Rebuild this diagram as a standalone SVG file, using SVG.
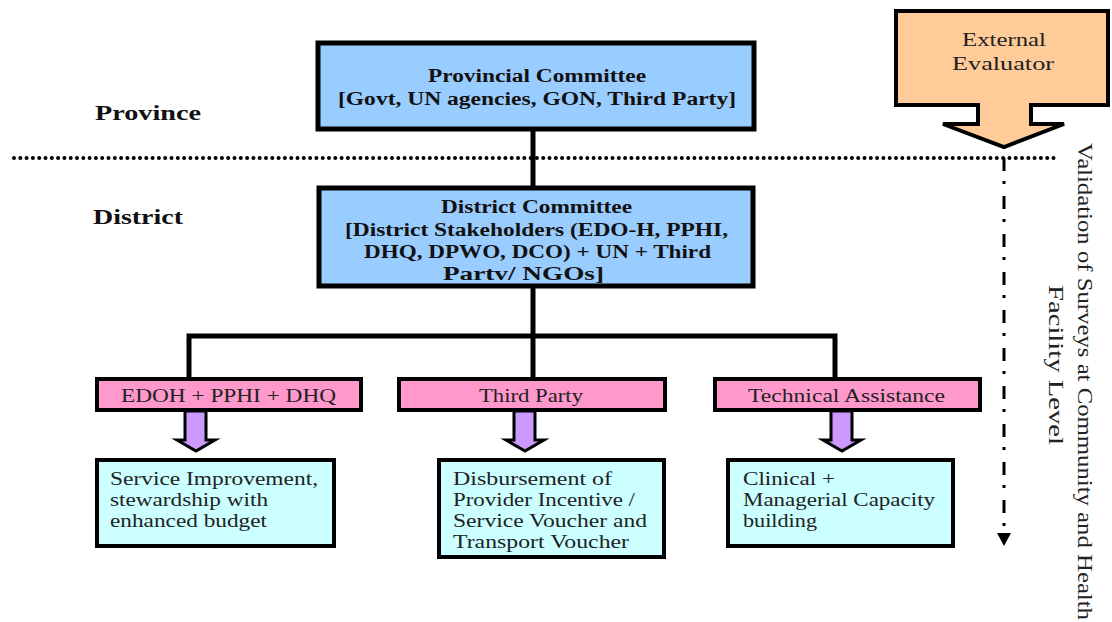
<svg xmlns="http://www.w3.org/2000/svg" width="1112" height="622" viewBox="0 0 1112 622">
<style>
.b{font-family:"Liberation Serif","Times New Roman",serif;font-weight:bold;fill:#111}
.r{font-family:"Liberation Serif","Times New Roman",serif;fill:#222}
.box{stroke:#000;stroke-width:5}
.thin{stroke:#000;stroke-width:4}
.conn{stroke:#000;stroke-width:5;fill:none}
</style>
<rect width="1112" height="622" fill="#fff"/>
<g id="labels">
<text class="b" x="95" y="120" font-size="20" textLength="106" lengthAdjust="spacingAndGlyphs">Province</text>
<text class="b" x="93" y="224" font-size="20" textLength="90" lengthAdjust="spacingAndGlyphs">District</text>
</g>
<g id="divider">
<line x1="14" y1="158" x2="1055" y2="158" stroke="#000" stroke-width="4" stroke-linecap="round" stroke-dasharray="0 6.3"/>
</g>
<g id="connectors">
<line class="conn" x1="533" y1="129" x2="533" y2="187"/>
<line class="conn" x1="533" y1="286" x2="533" y2="378"/>
<polyline class="conn" points="189,378 189,336 835,336 835,378"/>
<line x1="1004" y1="158" x2="1004" y2="534" stroke="#000" stroke-width="3" stroke-dasharray="13 10 3 12"/>
<path d="M997,533 L1011,533 L1004,546 z" fill="#000"/>
</g>
<g id="provincial">
<rect class="box" x="318" y="43" width="436" height="86" fill="#99ccff"/>
<text class="b" x="428" y="82" font-size="18" textLength="218" lengthAdjust="spacingAndGlyphs">Provincial Committee</text>
<text class="b" x="338" y="105" font-size="18" textLength="398" lengthAdjust="spacingAndGlyphs">[Govt, UN agencies, GON, Third Party]</text>
</g>
<g id="district">
<rect class="box" x="319" y="188" width="434" height="98" fill="#99ccff"/>
<text class="b" x="441" y="213" font-size="18" textLength="191" lengthAdjust="spacingAndGlyphs">District Committee</text>
<text class="b" x="345" y="236" font-size="18" textLength="383" lengthAdjust="spacingAndGlyphs">[District Stakeholders (EDO-H, PPHI,</text>
<text class="b" x="364" y="258" font-size="18" textLength="347" lengthAdjust="spacingAndGlyphs">DHQ, DPWO, DCO) + UN + Third</text>
<text class="b" x="443" y="280" font-size="18" textLength="161" lengthAdjust="spacingAndGlyphs">Partv/ NGOs]</text>
</g>
<g id="evaluator">
<path class="thin" d="M896,11 L1108,11 L1108,105 L1031,105 L1031,124 L1064,124 L1004,147 L943,124 L978,124 L978,105 L896,105 z" fill="#ffcc99" stroke-linejoin="miter"/>
<text class="r" x="962" y="46" font-size="19" textLength="84" lengthAdjust="spacingAndGlyphs">External</text>
<text class="r" x="952" y="70" font-size="19" textLength="102" lengthAdjust="spacingAndGlyphs">Evaluator</text>
</g>
<g id="validation">
<text class="r" transform="translate(1078,143) rotate(90)" font-size="22" textLength="477" lengthAdjust="spacingAndGlyphs" fill="#111">Validation of Surveys at Community and Health</text>
<text class="r" transform="translate(1049,285) rotate(90)" font-size="22" textLength="160" lengthAdjust="spacingAndGlyphs" fill="#111">Facility Level</text>
</g>
<g id="edoh">
<rect class="thin" x="97" y="379" width="264" height="31" fill="#ff99cc"/>
<text class="r" x="121" y="402" font-size="18" textLength="215" lengthAdjust="spacingAndGlyphs">EDOH + PPHI + DHQ</text>
<path d="M185,411 L206,411 L206,440 L215,440 L196,451 L177,440 L185,440 z" fill="#cc99ff" stroke="#000" stroke-width="3"/>
</g>
<g id="thirdparty">
<rect class="thin" x="399" y="379" width="266" height="31" fill="#ff99cc"/>
<text class="r" x="479" y="402" font-size="18" textLength="104" lengthAdjust="spacingAndGlyphs">Third Party</text>
<path d="M514,411 L535,411 L535,440 L544,440 L525,451 L506,440 L514,440 z" fill="#cc99ff" stroke="#000" stroke-width="3"/>
</g>
<g id="techassist">
<rect class="thin" x="715" y="379" width="265" height="31" fill="#ff99cc"/>
<text class="r" x="748" y="402" font-size="18" textLength="197" lengthAdjust="spacingAndGlyphs">Technical Assistance</text>
<path d="M831,411 L852,411 L852,440 L861,440 L842,451 L823,440 L831,440 z" fill="#cc99ff" stroke="#000" stroke-width="3"/>
</g>
<g id="service">
<rect class="thin" x="97" y="460" width="237" height="86" fill="#ccffff"/>
<text class="r" x="110" y="485" font-size="18" textLength="208" lengthAdjust="spacingAndGlyphs">Service Improvement,</text>
<text class="r" x="110" y="506" font-size="18" textLength="158" lengthAdjust="spacingAndGlyphs">stewardship with</text>
<text class="r" x="110" y="527" font-size="18" textLength="157" lengthAdjust="spacingAndGlyphs">enhanced budget</text>
</g>
<g id="disbursement">
<rect class="thin" x="439" y="460" width="225" height="97" fill="#ccffff"/>
<text class="r" x="453" y="485" font-size="18" textLength="159" lengthAdjust="spacingAndGlyphs">Disbursement of</text>
<text class="r" x="453" y="506" font-size="18" textLength="182" lengthAdjust="spacingAndGlyphs">Provider Incentive /</text>
<text class="r" x="453" y="527" font-size="18" textLength="194" lengthAdjust="spacingAndGlyphs">Service Voucher and</text>
<text class="r" x="453" y="548" font-size="18" textLength="176" lengthAdjust="spacingAndGlyphs">Transport Voucher</text>
</g>
<g id="clinical">
<rect class="thin" x="728" y="460" width="225" height="86" fill="#ccffff"/>
<text class="r" x="743" y="485" font-size="18" textLength="92" lengthAdjust="spacingAndGlyphs">Clinical +</text>
<text class="r" x="743" y="506" font-size="18" textLength="192" lengthAdjust="spacingAndGlyphs">Managerial Capacity</text>
<text class="r" x="743" y="527" font-size="18" textLength="74" lengthAdjust="spacingAndGlyphs">building</text>
</g>
</svg>
